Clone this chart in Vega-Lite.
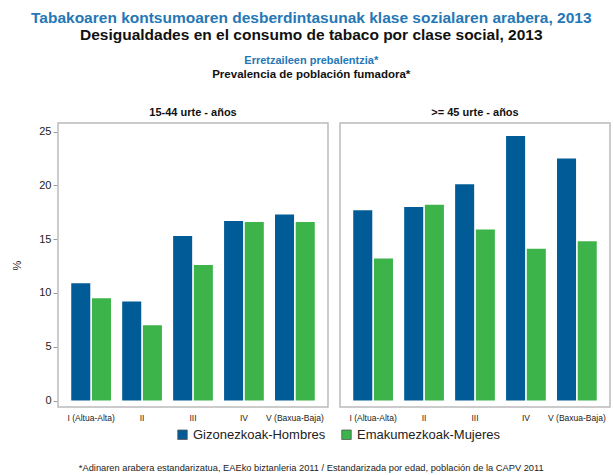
{
  "$schema": "https://vega.github.io/schema/vega-lite/v6.json",
  "padding": {"left": 11, "top": 10, "right": 0, "bottom": 4},
  "config": {
    "font": "Liberation Sans",
    "view": {"stroke": "#bbbbbb", "strokeWidth": 1.5},
    "concat": {"spacing": 0}
  },
  "title": {
    "text": "*Adinaren arabera estandarizatua, EAEko biztanleria 2011 / Estandarizada por edad, población de la CAPV 2011",
    "orient": "bottom",
    "anchor": "middle",
    "fontSize": 9.3,
    "fontWeight": "normal",
    "color": "#222222",
    "offset": 22
  },
  "vconcat": [
    {
      "title": {
        "text": "Tabakoaren kontsumoaren desberdintasunak klase sozialaren arabera, 2013",
        "subtitle": "Desigualdades en el consumo de tabaco por clase social, 2013",
        "anchor": "middle",
        "fontSize": 15.5,
        "fontWeight": "bold",
        "color": "#2577b5",
        "subtitleFontSize": 15.5,
        "subtitleFontWeight": "bold",
        "subtitleColor": "#111111",
        "subtitlePadding": 2,
        "offset": 11
      },
      "vconcat": [
        {
          "title": {
            "text": "Erretzaileen prebalentzia*",
            "subtitle": "Prevalencia de población fumadora*",
            "anchor": "middle",
            "fontSize": 11,
            "fontWeight": "bold",
            "color": "#2577b5",
            "subtitleFontSize": 11.5,
            "subtitleFontWeight": "bold",
            "subtitleColor": "#111111",
            "subtitlePadding": 3,
            "offset": 27
          },
          "data": {
            "values": [
              {"edad": "15-44 urte - años", "clase": "I (Altua-Alta)", "sexo": "Gizonezkoak-Hombres", "pct": 10.9},
              {"edad": "15-44 urte - años", "clase": "I (Altua-Alta)", "sexo": "Emakumezkoak-Mujeres", "pct": 9.5},
              {"edad": "15-44 urte - años", "clase": "II", "sexo": "Gizonezkoak-Hombres", "pct": 9.2},
              {"edad": "15-44 urte - años", "clase": "II", "sexo": "Emakumezkoak-Mujeres", "pct": 7.0},
              {"edad": "15-44 urte - años", "clase": "III", "sexo": "Gizonezkoak-Hombres", "pct": 15.3},
              {"edad": "15-44 urte - años", "clase": "III", "sexo": "Emakumezkoak-Mujeres", "pct": 12.6},
              {"edad": "15-44 urte - años", "clase": "IV", "sexo": "Gizonezkoak-Hombres", "pct": 16.7},
              {"edad": "15-44 urte - años", "clase": "IV", "sexo": "Emakumezkoak-Mujeres", "pct": 16.6},
              {"edad": "15-44 urte - años", "clase": "V (Baxua-Baja)", "sexo": "Gizonezkoak-Hombres", "pct": 17.3},
              {"edad": "15-44 urte - años", "clase": "V (Baxua-Baja)", "sexo": "Emakumezkoak-Mujeres", "pct": 16.6},
              {"edad": ">= 45 urte - años", "clase": "I (Altua-Alta)", "sexo": "Gizonezkoak-Hombres", "pct": 17.7},
              {"edad": ">= 45 urte - años", "clase": "I (Altua-Alta)", "sexo": "Emakumezkoak-Mujeres", "pct": 13.2},
              {"edad": ">= 45 urte - años", "clase": "II", "sexo": "Gizonezkoak-Hombres", "pct": 18.0},
              {"edad": ">= 45 urte - años", "clase": "II", "sexo": "Emakumezkoak-Mujeres", "pct": 18.2},
              {"edad": ">= 45 urte - años", "clase": "III", "sexo": "Gizonezkoak-Hombres", "pct": 20.1},
              {"edad": ">= 45 urte - años", "clase": "III", "sexo": "Emakumezkoak-Mujeres", "pct": 15.9},
              {"edad": ">= 45 urte - años", "clase": "IV", "sexo": "Gizonezkoak-Hombres", "pct": 24.6},
              {"edad": ">= 45 urte - años", "clase": "IV", "sexo": "Emakumezkoak-Mujeres", "pct": 14.1},
              {"edad": ">= 45 urte - años", "clase": "V (Baxua-Baja)", "sexo": "Gizonezkoak-Hombres", "pct": 22.5},
              {"edad": ">= 45 urte - años", "clase": "V (Baxua-Baja)", "sexo": "Emakumezkoak-Mujeres", "pct": 14.8}
            ]
          },
          "facet": {
            "column": {
              "field": "edad",
              "type": "nominal",
              "sort": ["15-44 urte - años", ">= 45 urte - años"],
              "header": {
                "title": null,
                "labelFontSize": 11,
                "labelFontWeight": "bold",
                "labelColor": "#111111",
                "labelPadding": 4
              }
            }
          },
          "spacing": 10,
          "spec": {
            "width": 270,
            "height": 284,
            "mark": {"type": "bar"},
            "encoding": {
              "x": {
                "field": "clase",
                "type": "nominal",
                "sort": ["I (Altua-Alta)", "II", "III", "IV", "V (Baxua-Baja)"],
                "scale": {"paddingInner": 0.22, "paddingOuter": 0.26},
                "axis": {
                  "title": null,
                  "labelAngle": 0,
                  "labelFontSize": 8.5,
                  "labelColor": "#222222",
                  "ticks": false,
                  "domain": false,
                  "labelPadding": 5
                }
              },
              "xOffset": {
                "field": "sexo",
                "type": "nominal",
                "sort": ["Gizonezkoak-Hombres", "Emakumezkoak-Mujeres"],
                "scale": {"paddingInner": 0.08}
              },
              "y": {
                "field": "pct",
                "type": "quantitative",
                "scale": {"domain": [-0.6, 25.8], "nice": false, "zero": false},
                "axis": {
                  "title": "%",
                  "titleFontSize": 11,
                  "titleFontWeight": "normal",
                  "titleColor": "#222222",
                  "titlePadding": 16,
                  "values": [0, 5, 10, 15, 20, 25],
                  "labelFontSize": 11,
                  "labelColor": "#222222",
                  "grid": false,
                  "domain": false,
                  "tickColor": "#999999",
                  "tickSize": 4
                }
              },
              "color": {
                "field": "sexo",
                "type": "nominal",
                "sort": ["Gizonezkoak-Hombres", "Emakumezkoak-Mujeres"],
                "scale": {"range": ["#005b96", "#3cb44a"]},
                "legend": {
                  "title": null,
                  "orient": "none",
                  "legendX": 118,
                  "legendY": 305,
                  "direction": "horizontal",
                  "symbolType": "square",
                  "symbolSize": 90,
                  "symbolStrokeColor": "#555555",
                  "symbolStrokeWidth": 0.8,
                  "labelFontSize": 13,
                  "labelColor": "#222222",
                  "columnPadding": 14
                }
              }
            }
          }
        }
      ]
    }
  ]
}
